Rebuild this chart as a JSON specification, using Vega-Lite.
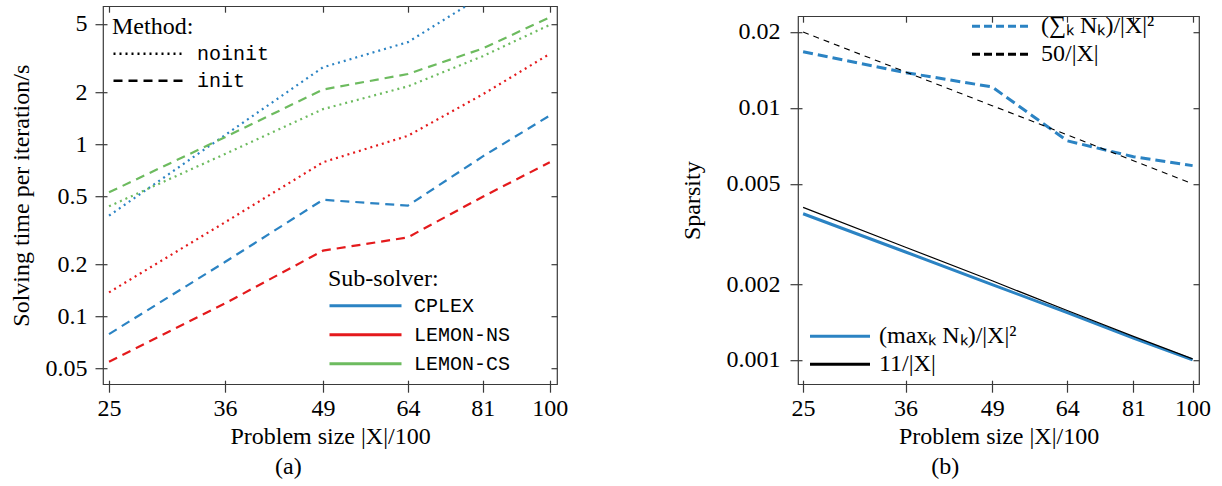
{
  "$schema": "https://vega.github.io/schema/vega-lite/v6.json",
  "padding": {"left": 8, "top": 4, "right": 4, "bottom": 0},
  "spacing": 110,
  "center": true,
  "resolve": {
    "scale": {"color": "independent", "stroke": "independent", "strokeDash": "independent"},
    "legend": {"color": "independent", "stroke": "independent", "strokeDash": "independent"}
  },
  "datasets": {
    "a": [
      {"x": 25, "solver": "CPLEX", "method": "noinit", "t": 0.385},
      {"x": 36, "solver": "CPLEX", "method": "noinit", "t": 1.13},
      {"x": 49, "solver": "CPLEX", "method": "noinit", "t": 2.80},
      {"x": 64, "solver": "CPLEX", "method": "noinit", "t": 3.92},
      {"x": 81, "solver": "CPLEX", "method": "noinit", "t": 7.3},
      {"x": 100, "solver": "CPLEX", "method": "noinit", "t": 12},
      {"x": 25, "solver": "CPLEX", "method": "init", "t": 0.079},
      {"x": 36, "solver": "CPLEX", "method": "init", "t": 0.207},
      {"x": 49, "solver": "CPLEX", "method": "init", "t": 0.476},
      {"x": 64, "solver": "CPLEX", "method": "init", "t": 0.44},
      {"x": 81, "solver": "CPLEX", "method": "init", "t": 0.85},
      {"x": 100, "solver": "CPLEX", "method": "init", "t": 1.47},
      {"x": 25, "solver": "LEMON-NS", "method": "noinit", "t": 0.138},
      {"x": 36, "solver": "LEMON-NS", "method": "noinit", "t": 0.352},
      {"x": 49, "solver": "LEMON-NS", "method": "noinit", "t": 0.786},
      {"x": 64, "solver": "LEMON-NS", "method": "noinit", "t": 1.12},
      {"x": 81, "solver": "LEMON-NS", "method": "noinit", "t": 1.95},
      {"x": 100, "solver": "LEMON-NS", "method": "noinit", "t": 3.35},
      {"x": 25, "solver": "LEMON-NS", "method": "init", "t": 0.0545},
      {"x": 36, "solver": "LEMON-NS", "method": "init", "t": 0.119},
      {"x": 49, "solver": "LEMON-NS", "method": "init", "t": 0.241},
      {"x": 64, "solver": "LEMON-NS", "method": "init", "t": 0.288},
      {"x": 81, "solver": "LEMON-NS", "method": "init", "t": 0.496},
      {"x": 100, "solver": "LEMON-NS", "method": "init", "t": 0.786},
      {"x": 25, "solver": "LEMON-CS", "method": "noinit", "t": 0.436},
      {"x": 36, "solver": "LEMON-CS", "method": "noinit", "t": 0.878},
      {"x": 49, "solver": "LEMON-CS", "method": "noinit", "t": 1.6},
      {"x": 64, "solver": "LEMON-CS", "method": "noinit", "t": 2.17},
      {"x": 81, "solver": "LEMON-CS", "method": "noinit", "t": 3.25},
      {"x": 100, "solver": "LEMON-CS", "method": "noinit", "t": 4.94},
      {"x": 25, "solver": "LEMON-CS", "method": "init", "t": 0.526},
      {"x": 36, "solver": "LEMON-CS", "method": "init", "t": 1.1},
      {"x": 49, "solver": "LEMON-CS", "method": "init", "t": 2.08},
      {"x": 64, "solver": "LEMON-CS", "method": "init", "t": 2.56},
      {"x": 81, "solver": "LEMON-CS", "method": "init", "t": 3.6},
      {"x": 100, "solver": "LEMON-CS", "method": "init", "t": 5.47}
    ],
    "b": [
      {"x": 25, "series": "(∑ₖ Nₖ)/|X|²", "v": 0.0167},
      {"x": 36, "series": "(∑ₖ Nₖ)/|X|²", "v": 0.0138},
      {"x": 49, "series": "(∑ₖ Nₖ)/|X|²", "v": 0.0121},
      {"x": 64, "series": "(∑ₖ Nₖ)/|X|²", "v": 0.0074},
      {"x": 81, "series": "(∑ₖ Nₖ)/|X|²", "v": 0.0064},
      {"x": 100, "series": "(∑ₖ Nₖ)/|X|²", "v": 0.0059},
      {"x": 25, "series": "50/|X|", "v": 0.02},
      {"x": 36, "series": "50/|X|", "v": 0.01389},
      {"x": 49, "series": "50/|X|", "v": 0.0102},
      {"x": 64, "series": "50/|X|", "v": 0.00781},
      {"x": 81, "series": "50/|X|", "v": 0.00617},
      {"x": 100, "series": "50/|X|", "v": 0.005},
      {"x": 25, "series": "(maxₖ Nₖ)/|X|²", "v": 0.0038},
      {"x": 36, "series": "(maxₖ Nₖ)/|X|²", "v": 0.00268},
      {"x": 49, "series": "(maxₖ Nₖ)/|X|²", "v": 0.00199},
      {"x": 64, "series": "(maxₖ Nₖ)/|X|²", "v": 0.00154},
      {"x": 81, "series": "(maxₖ Nₖ)/|X|²", "v": 0.00122},
      {"x": 100, "series": "(maxₖ Nₖ)/|X|²", "v": 0.001},
      {"x": 25, "series": "11/|X|", "v": 0.00403},
      {"x": 36, "series": "11/|X|", "v": 0.0028},
      {"x": 49, "series": "11/|X|", "v": 0.00206},
      {"x": 64, "series": "11/|X|", "v": 0.00157},
      {"x": 81, "series": "11/|X|", "v": 0.00124},
      {"x": 100, "series": "11/|X|", "v": 0.00101}
    ]
  },
  "config": {
    "font": "Liberation Serif",
    "view": {"stroke": "#3a3a3a", "strokeWidth": 1.2},
    "axis": {
      "grid": false, "domain": false, "tickColor": "#3a3a3a", "tickWidth": 1.2,
      "labelFont": "Liberation Serif", "labelFontSize": 24, "labelColor": "black",
      "titleFont": "Liberation Serif", "titleFontSize": 24, "titleFontWeight": "normal", "titleColor": "black",
      "labelOverlap": false, "labelFlush": false
    },
    "legend": {
      "padding": 0, "labelColor": "black", "titleColor": "black", "titleFontWeight": "normal"
    },
    "title": {"font": "Liberation Serif", "fontSize": 24, "fontWeight": "normal", "color": "black"}
  },
  "hconcat": [
    {
      "width": 454, "height": 378,
      "data": {"name": "a"},
      "title": {"text": ["(a)", " "], "lineHeight": 10, "orient": "bottom", "offset": 7, "anchor": "middle", "frame": "bounds"},
      "resolve": {"axis": {"x": "independent", "y": "independent"}},
      "layer": [
        {
          "transform": [{"filter": "datum.solver === 'CPLEX'"}],
          "mark": {"type": "line", "clip": true, "strokeWidth": 2.2},
          "encoding": {
            "x": {"field": "x", "type": "quantitative", "scale": {"type": "log", "domain": [24.53, 102.3], "nice": false},
              "axis": {"orient": "bottom", "values": [25, 36, 49, 64, 81, 100], "format": "~g", "tickSize": 8, "labelPadding": 4, "title": "Problem size |X|/100", "titlePadding": 4}},
            "y": {"field": "t", "type": "quantitative", "scale": {"type": "log", "domain": [0.0404, 6.34], "nice": false},
              "axis": {"orient": "left", "values": [0.05, 0.1, 0.2, 0.5, 1, 2, 5], "format": "~g", "tickSize": 8, "labelPadding": 8, "title": "Solving time per iteration/s", "titlePadding": 12}},
            "color": {"field": "solver", "type": "nominal",
              "scale": {"domain": ["CPLEX", "LEMON-NS", "LEMON-CS"], "range": ["#2b83c3", "#e41a1c", "#6dbb5f"]},
              "legend": {"title": "Sub-solver:", "orient": "none", "legendX": 225, "legendY": 261,
                "symbolType": "M-1,0H7", "symbolSize": 324, "symbolStrokeWidth": 3,
                "labelOffset": 65, "labelFont": "Liberation Mono", "labelFontSize": 20,
                "titleFont": "Liberation Serif", "titleFontSize": 24, "titlePadding": 4, "rowPadding": 8}},
            "strokeDash": {"field": "method", "type": "nominal",
              "scale": {"domain": ["noinit", "init"], "range": [[2, 4], [9, 6]]},
              "legend": {"title": "Method:", "orient": "none", "legendX": 9, "legendY": 9,
                "symbolType": "M-1,0H7", "symbolSize": 324, "symbolStrokeWidth": 2.5, "symbolStrokeColor": "black",
                "labelOffset": 64, "labelFont": "Liberation Mono", "labelFontSize": 20,
                "titleFont": "Liberation Serif", "titleFontSize": 24, "titlePadding": 4, "rowPadding": 6}}
          }
        },
        {
          "transform": [{"filter": "datum.solver === 'LEMON-NS'"}],
          "mark": {"type": "line", "clip": true, "strokeWidth": 2.2},
          "encoding": {
            "x": {"field": "x", "type": "quantitative", "scale": {"type": "log", "domain": [24.53, 102.3], "nice": false},
              "axis": {"orient": "top", "values": [25, 36, 49, 64, 81, 100], "tickSize": -6, "labels": false, "title": null}},
            "y": {"field": "t", "type": "quantitative", "scale": {"type": "log", "domain": [0.0404, 6.34], "nice": false},
              "axis": {"orient": "right", "values": [0.05, 0.1, 0.2, 0.5, 1, 2, 5], "tickSize": -6, "labels": false, "title": null}},
            "color": {"field": "solver", "type": "nominal"},
            "strokeDash": {"field": "method", "type": "nominal"}
          }
        },
        {
          "transform": [{"filter": "datum.solver === 'LEMON-CS'"}],
          "mark": {"type": "line", "clip": true, "strokeWidth": 2.2},
          "encoding": {
            "x": {"field": "x", "type": "quantitative", "scale": {"type": "log", "domain": [24.53, 102.3], "nice": false},
              "axis": {"orient": "bottom", "values": [25, 36, 49, 64, 81, 100], "tickSize": -4, "labels": false, "title": null}},
            "y": {"field": "t", "type": "quantitative", "scale": {"type": "log", "domain": [0.0404, 6.34], "nice": false},
              "axis": {"orient": "left", "values": [0.05, 0.1, 0.2, 0.5, 1, 2, 5], "tickSize": -4, "labels": false, "title": null}},
            "color": {"field": "solver", "type": "nominal"},
            "strokeDash": {"field": "method", "type": "nominal"}
          }
        }
      ]
    },
    {
      "width": 401, "height": 368,
      "data": {"name": "b"},
      "title": {"text": "(b)", "orient": "bottom", "offset": 7, "anchor": "middle", "frame": "bounds"},
      "resolve": {"axis": {"x": "independent", "y": "independent"}},
      "layer": [
        {
          "transform": [{"filter": "datum.series === '(∑ₖ Nₖ)/|X|²'"}],
          "mark": {"type": "line", "clip": true, "strokeWidth": 3, "strokeDash": [10, 5]},
          "encoding": {
            "x": {"field": "x", "type": "quantitative", "scale": {"type": "log", "domain": [24.55, 102.3], "nice": false},
              "axis": {"orient": "bottom", "values": [25, 36, 49, 64, 81, 100], "format": "~g", "tickSize": 8, "labelPadding": 4, "title": "Problem size |X|/100", "titlePadding": 4}},
            "y": {"field": "v", "type": "quantitative", "scale": {"type": "log", "domain": [0.000801, 0.0231], "nice": false},
              "axis": {"orient": "left", "values": [0.001, 0.002, 0.005, 0.01, 0.02], "format": "~g", "tickSize": 8, "labelPadding": 10, "title": "Sparsity", "titlePadding": 22}},
            "color": {"field": "series", "type": "nominal",
              "scale": {"domain": ["(∑ₖ Nₖ)/|X|²", "50/|X|"], "range": ["#2b83c3", "black"]},
              "legend": {"title": null, "orient": "none", "legendX": 171, "legendY": -2,
                "symbolType": "M-1,0H5.6667", "symbolSize": 324, "symbolStrokeWidth": 3, "symbolDash": [8, 4],
                "labelOffset": 48, "labelFont": "Liberation Serif", "labelFontSize": 24, "rowPadding": 4}}
          }
        },
        {
          "transform": [{"filter": "datum.series === '50/|X|'"}],
          "mark": {"type": "line", "clip": true, "strokeWidth": 1.1, "strokeDash": [6, 5]},
          "encoding": {
            "x": {"field": "x", "type": "quantitative", "scale": {"type": "log", "domain": [24.55, 102.3], "nice": false},
              "axis": {"orient": "top", "values": [25, 36, 49, 64, 81, 100], "tickSize": -6, "labels": false, "title": null}},
            "y": {"field": "v", "type": "quantitative", "scale": {"type": "log", "domain": [0.000801, 0.0231], "nice": false},
              "axis": {"orient": "right", "values": [0.001, 0.002, 0.005, 0.01, 0.02], "tickSize": -6, "labels": false, "title": null}},
            "color": {"field": "series", "type": "nominal"}
          }
        },
        {
          "transform": [{"filter": "datum.series === '(maxₖ Nₖ)/|X|²'"}],
          "mark": {"type": "line", "clip": true, "strokeWidth": 3},
          "encoding": {
            "x": {"field": "x", "type": "quantitative", "scale": {"type": "log", "domain": [24.55, 102.3], "nice": false},
              "axis": {"orient": "bottom", "values": [25, 36, 49, 64, 81, 100], "tickSize": -4, "labels": false, "title": null}},
            "y": {"field": "v", "type": "quantitative", "scale": {"type": "log", "domain": [0.000801, 0.0231], "nice": false},
              "axis": {"orient": "left", "values": [0.001, 0.002, 0.005, 0.01, 0.02], "tickSize": -4, "labels": false, "title": null}},
            "stroke": {"field": "series", "type": "nominal",
              "scale": {"domain": ["(maxₖ Nₖ)/|X|²", "11/|X|"], "range": ["#2b83c3", "black"]},
              "legend": {"title": null, "orient": "none", "legendX": 9, "legendY": 308,
                "symbolType": "M-1,0H5.6667", "symbolSize": 324, "symbolStrokeWidth": 3,
                "labelOffset": 48, "labelFont": "Liberation Serif", "labelFontSize": 24, "rowPadding": 4}}
          }
        },
        {
          "transform": [{"filter": "datum.series === '11/|X|'"}],
          "mark": {"type": "line", "clip": true, "strokeWidth": 1.2},
          "encoding": {
            "x": {"field": "x", "type": "quantitative", "scale": {"type": "log", "domain": [24.55, 102.3], "nice": false}, "axis": null},
            "y": {"field": "v", "type": "quantitative", "scale": {"type": "log", "domain": [0.000801, 0.0231], "nice": false}, "axis": null},
            "stroke": {"field": "series", "type": "nominal"}
          }
        }
      ]
    }
  ]
}
